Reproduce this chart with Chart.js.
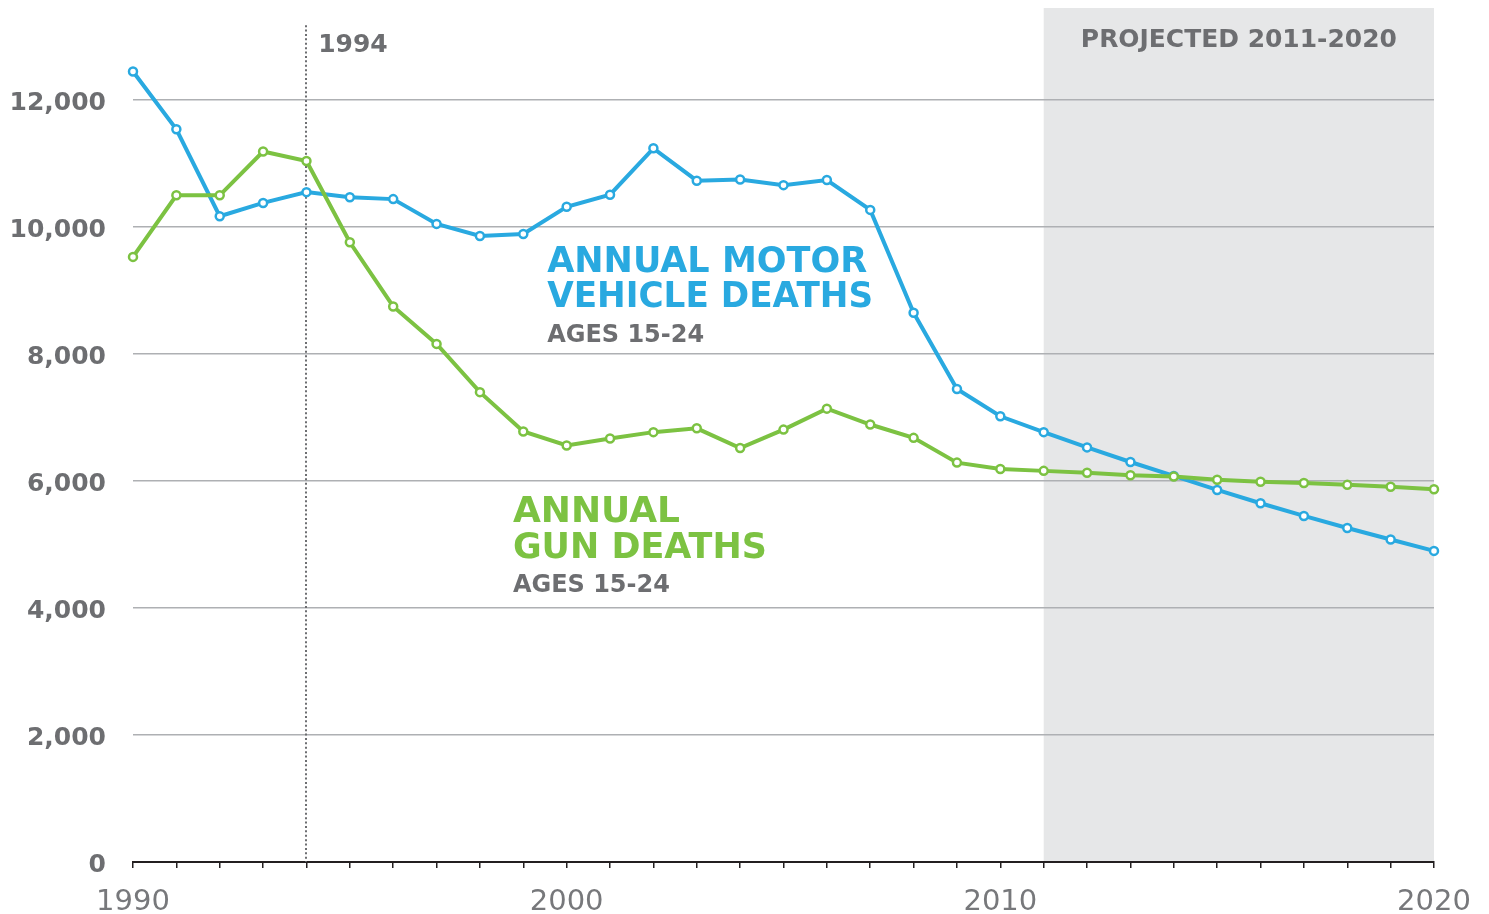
<!DOCTYPE html>
<html><head><meta charset="utf-8">
<script src="https://cdn.jsdelivr.net/npm/chart.js@4.4.1/dist/chart.umd.min.js"></script>
<style>html,body{margin:0;padding:0;background:#fff;overflow:hidden}#wrap{width:1489px;height:914px;position:relative}</style>
</head><body><div id="wrap"><canvas id="c" width="1489" height="914"></canvas></div>
<script>
// ---- data ----
const years = [1990,1991,1992,1993,1994,1995,1996,1997,1998,1999,2000,2001,2002,2003,2004,2005,2006,2007,2008,2009,2010,2011,2012,2013,2014,2015,2016,2017,2018,2019,2020];
const motorVehicleDeaths = [12450,11540,10170,10380,10550,10470,10440,10050,9860,9890,10320,10510,11240,10730,10750,10660,10740,10270,8650,7450,7020,6770,6530,6300,6080,5860,5650,5450,5260,5080,4900];
const gunDeaths = [9530,10500,10500,11190,11040,9760,8750,8160,7400,6780,6560,6670,6770,6830,6520,6810,7140,6890,6680,6290,6190,6160,6130,6090,6070,6020,5990,5970,5940,5910,5870];
const xTickLabels = [1990,2000,2010,2020];
const yTickValues = [0,2000,4000,6000,8000,10000,12000];
const projectedRange = [2011,2020];
const projectedLabel = 'PROJECTED 2011-2020';
const markerYear = 1994;
const markerLabel = '1994';
const motorLabelLines = ['ANNUAL MOTOR','VEHICLE DEATHS','AGES 15-24'];
const gunLabelLines = ['ANNUAL','GUN DEATHS','AGES 15-24'];

// ---- styles ----
const BLUE = '#29a9e0', GREEN = '#7cc242', GRAY = '#6d6e71';
const FONT = '"DejaVu Sans", sans-serif';

const toXY = vals => years.map((y,i)=>({x:y,y:vals[i]}));

const annot = {
  id:'annot',
  beforeDraw(chart){
    const {ctx, chartArea:a, scales:{x,y}} = chart;
    ctx.save();
    ctx.fillStyle = '#e6e7e8';
    const x0 = x.getPixelForValue(projectedRange[0]), x1 = x.getPixelForValue(projectedRange[1]);
    ctx.fillRect(x0, a.top, x1-x0, a.bottom-a.top);
    ctx.restore();
  },
  beforeDatasetsDraw(chart){
    const {ctx, chartArea:a, scales:{x,y}} = chart;
    ctx.save();
    // dotted marker line
    const mx = Math.round(x.getPixelForValue(markerYear));
    ctx.strokeStyle = GRAY; ctx.lineWidth = 2; ctx.setLineDash([2,2.4]);
    ctx.beginPath(); ctx.moveTo(mx, y.getPixelForValue(13180)); ctx.lineTo(mx, a.bottom); ctx.stroke();
    ctx.setLineDash([]);
    ctx.textBaseline = 'alphabetic';
    ctx.fillStyle = GRAY;
    ctx.font = 'bold 25px ' + FONT; ctx.textAlign = 'left';
    ctx.fillText(markerLabel, x.getPixelForValue(1994.27), y.getPixelForValue(12762), 71);
    ctx.textAlign = 'center';
    ctx.fillText(projectedLabel, x.getPixelForValue((projectedRange[0]+projectedRange[1])/2), y.getPixelForValue(12841), 316);
    // series labels
    ctx.textAlign = 'left';
    const mxL = x.getPixelForValue(1999.55);
    ctx.fillStyle = BLUE; ctx.font = 'bold 36px ' + FONT;
    ctx.fillText(motorLabelLines[0], mxL, y.getPixelForValue(9297), 320);
    ctx.fillText(motorLabelLines[1], mxL, y.getPixelForValue(8746), 326);
    ctx.fillStyle = GRAY; ctx.font = 'bold 24px ' + FONT;
    ctx.fillText(motorLabelLines[2], mxL, y.getPixelForValue(8195), 157);
    const gxL = x.getPixelForValue(1998.76);
    ctx.fillStyle = GREEN; ctx.font = 'bold 36px ' + FONT;
    ctx.fillText(gunLabelLines[0], gxL, y.getPixelForValue(5355), 168);
    ctx.fillText(gunLabelLines[1], gxL, y.getPixelForValue(4788), 254);
    ctx.fillStyle = GRAY; ctx.font = 'bold 24px ' + FONT;
    ctx.fillText(gunLabelLines[2], gxL, y.getPixelForValue(4252), 157);
    ctx.restore();
  }
};

new Chart(document.getElementById('c'), {
  type:'line',
  data:{datasets:[
    {label:'Annual gun deaths', data:toXY(gunDeaths), borderColor:GREEN, backgroundColor:'#fff', borderWidth:4,
     pointRadius:4, pointBorderWidth:2.5, pointBackgroundColor:'#fff', pointBorderColor:GREEN, tension:0, clip:false, order:0},
    {label:'Annual motor vehicle deaths', data:toXY(motorVehicleDeaths), borderColor:BLUE, backgroundColor:'#fff', borderWidth:4,
     pointRadius:4, pointBorderWidth:2.5, pointBackgroundColor:'#fff', pointBorderColor:BLUE, tension:0, clip:false, order:1}
  ]},
  options:{
    responsive:false, animation:false, devicePixelRatio:1,
    layout:{padding:{top:8,right:55,left:0,bottom:0}},
    plugins:{legend:{display:false}, tooltip:{enabled:false}},
    scales:{
      x:{type:'linear', min:years[0], max:years[years.length-1],
        afterBuildTicks(s){ s.ticks = years.map(v=>({value:v})); },
        afterFit(s){ s.height = 52; },
        ticks:{autoSkip:false, maxRotation:0, padding:17, color:'#77787b', font:{family:FONT, size:29},
          callback:v=> xTickLabels.includes(v) ? String(v) : ''},
        grid:{drawOnChartArea:false, drawTicks:true, tickLength:6, color:'#231f20', lineWidth:1.5},
        border:{display:true, color:'#231f20', width:2}
      },
      y:{min:0, max:13450,
        afterBuildTicks(s){ s.ticks = yTickValues.map(v=>({value:v})); },
        afterFit(s){ s.width = 133; s.paddingTop = 0; s.paddingBottom = 0; },
        ticks:{padding:27, labelOffset:3, color:GRAY, font:{family:FONT, size:25, weight:'bold'},
          callback:v=> v.toLocaleString('en-US')},
        grid:{drawTicks:false, lineWidth:1.5, color:c=> c.tick && c.tick.value===0 ? 'rgba(0,0,0,0)' : '#aeb0b3'},
        border:{display:false}
      }
    }
  },
  plugins:[annot]
});
</script></body></html>
